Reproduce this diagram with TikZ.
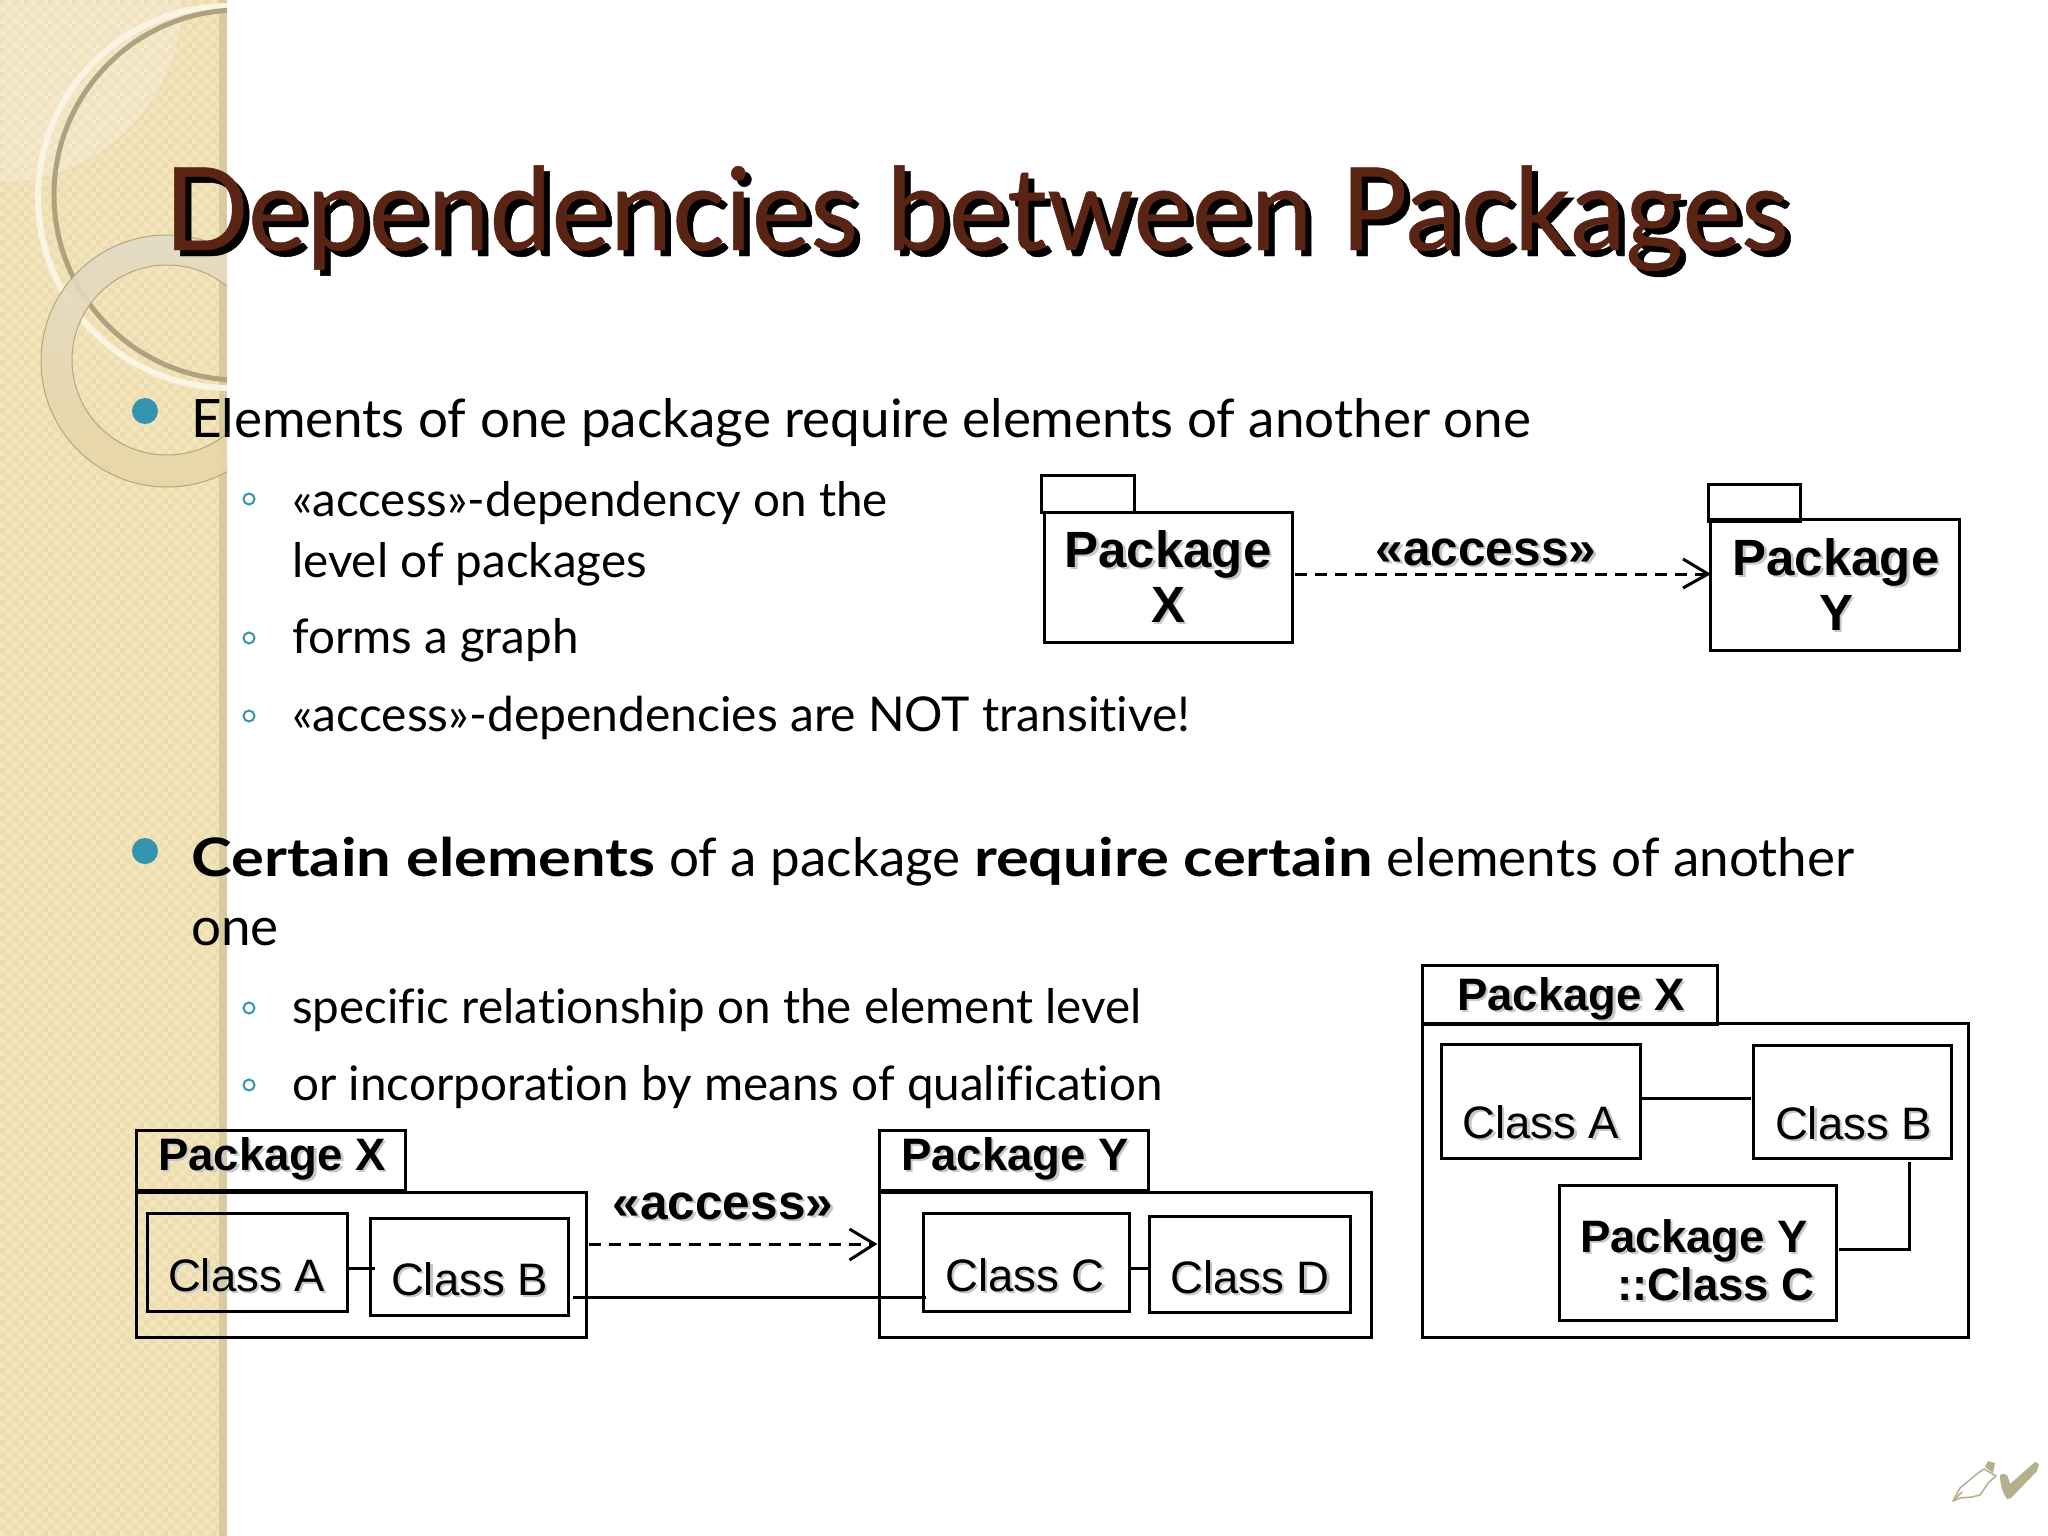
\documentclass[tikz,border=0pt]{standalone}
\usepackage{fontspec}
\setmainfont{Lato}[Ligatures={NoCommon},BoldFeatures={FakeStretch=1.16}]
\newfontfamily\titlef{Lato}[Ligatures={NoCommon},FakeStretch=0.965,FakeBold=0.4]
\newfontfamily\arialf{Liberation Sans}
\usetikzlibrary{arrows.meta,calc}
\definecolor{bandbase}{HTML}{EEDDAE}
\definecolor{bandlight}{HTML}{F2E4BD}
\definecolor{bandedge}{HTML}{D9CBA0}
\definecolor{titlebrown}{HTML}{5A2414}
\definecolor{teal}{HTML}{3493AE}
\definecolor{penc}{HTML}{B5AF8C}
\definecolor{ringtop}{HTML}{E2DBC6}
\definecolor{ringbot}{HTML}{E8D6A4}
\tikzset{
  x=1pt,y=-1pt,
  umlbox/.style={draw=black,line width=3pt,fill=none,inner sep=0pt,outer sep=0pt},
  conn/.style={draw=black,line width=3pt},
  depend/.style={draw=black,line width=3pt,dash pattern=on 12pt off 8pt},
  openhead/.style={draw=black,line width=3pt},
  bodytext/.style={anchor=base west,inner sep=0pt,font=\fontsize{53}{60}\selectfont,text=black},
  subtext/.style={anchor=base west,inner sep=0pt,font=\fontsize{47.6}{56}\selectfont,text=black},
  umlbold/.style={anchor=base,inner sep=0pt,font=\arialf\bfseries\fontsize{45.5}{50}\selectfont},
  umlbig/.style={anchor=base,inner sep=0pt,font=\arialf\bfseries\fontsize{51}{50}\selectfont},
  umlacc/.style={anchor=base,inner sep=0pt,font=\arialf\bfseries\fontsize{49.5}{50}\selectfont},
  umlreg/.style={anchor=base,inner sep=0pt,font=\arialf\fontsize{45.5}{50}\selectfont},
  titletext/.style={anchor=base west,inner sep=0pt,font=\titlef\fontsize{115}{120}\selectfont},
  bigbullet/.style={circle,fill=teal,minimum size=26pt,inner sep=0pt},
  subbullet/.style={circle,draw=teal,line width=2pt,minimum size=11pt,inner sep=0pt},
}
\newcommand{\umlrect}[5]{% name x1 y1 x2 y2
  \pgfmathsetmacro{\rw}{#4-#2}\pgfmathsetmacro{\rh}{#5-#3}
  \node[umlbox,minimum width=\rw pt,minimum height=\rh pt] (#1) at ({(#2+#4)/2},{(#3+#5)/2}) {};}
\newcommand{\shtxt}[5]{% name style x y text
  \node[#2,text=black!22] at (#3+2.5,#4+2.5) {#5};
  \node[#2,text=black] (#1) at (#3,#4) {#5};}
\begin{document}
\begin{tikzpicture}
\useasboundingbox (0,0) rectangle (2048,1536);
\fill[white] (0,0) rectangle (2048,1536);
\begin{scope}
\clip (0,0) rectangle (227,1536);
\fill[bandbase] (0,0) rectangle (227,1536);
\fill[bandlight] \foreach \i in {0,...,37}{ \foreach \j in {0,...,256}{
  \ifodd\numexpr\i+\j\relax (\i*6,\j*6) rectangle ++(6,6) \fi }};
\fill[bandedge] (219,0) rectangle (227,1536);
\fill[white,opacity=.2,draw=black!30!bandbase] (0,0) -- (183,0) arc (0:90:183) -- cycle;
\draw[line width=6pt,color=white!60!bandlight] (229,197) circle (191);
\draw[line width=5pt,color=black!20!bandedge] (239,195) circle (185);
\shade[even odd rule,top color=ringtop,bottom color=ringbot,opacity=.9] (167,361) circle (126) (167,360) circle (95);
\draw[black!25!bandbase,line width=1pt] (167,361) circle (126) (167,360) circle (95);
\end{scope}
% title
\node[titletext,text=black] at (170,256) {Dependencies between Packages};
\node[titletext,text=titlebrown] (title) at (164,250) {Dependencies between Packages};
% bullets
\node[bigbullet] (b1) at (145,411) {};
\node[bodytext] (t1) at (191,437.5) {Elements of one package require elements of another one};
\node[subbullet] (s1) at (249,499) {};
\node[subtext] (t2) at (292,516) {«access»-dependency on the};
\node[subtext] (t3) at (292,577) {level of packages};
\node[subbullet] (s2) at (249,638) {};
\node[subtext] (t4) at (292,653) {forms a graph};
\node[subbullet] (s3) at (249,716) {};
\node[subtext,font=\fontsize{48}{56}\selectfont] (t5) at (292,731) {«access»-dependencies are NOT transitive!};
\node[bigbullet] (b2) at (145,851) {};
\node[bodytext] (t6) at (191,876) {\textbf{Certain elements} of a package \textbf{require certain} elements of another};
\node[bodytext] (t7) at (191,945) {one};
\node[subbullet] (s4) at (249,1008) {};
\node[subtext] (t8) at (292,1023) {specific relationship on the element level};
\node[subbullet] (s5) at (249,1085) {};
\node[subtext] (t9) at (292,1100) {or incorporation by means of qualification};
% top diagram
\umlrect{pxtab}{1041}{475}{1134}{512}
\umlrect{pxbody}{1044}{512}{1292}{642}
\umlrect{pytab}{1708.5}{484}{1800.5}{521}
\umlrect{pybody}{1710}{519}{1959.5}{650}
\shtxt{pxl1}{umlbig}{1168}{567}{Package}
\shtxt{pxl2}{umlbig}{1168}{622}{X}
\shtxt{pyl1}{umlbig}{1836}{575}{Package}
\shtxt{pyl2}{umlbig}{1836}{630}{Y}
\shtxt{acc1}{umlacc}{1486}{565}{«access»}
\draw[depend] ($(pxbody.east)+(3,-3)$) -- ($(pybody.west)+(-2,-10.5)$);
\draw[openhead] ($(pybody.west)+(-27,-25.5)$) -- ($(pybody.west)+(-2,-10.5)$) -- ($(pybody.west)+(-27,3.5)$);
% bottom left diagram
\umlrect{lxtab}{136}{1130}{405.5}{1190}
\umlrect{lxbody}{136}{1192}{586.5}{1337}
\umlrect{ca}{147}{1213}{347}{1311}
\umlrect{cb}{370}{1218}{568}{1315}
\umlrect{lytab}{879.5}{1130}{1148}{1190}
\umlrect{lybody}{879.5}{1192}{1371}{1337}
\umlrect{cc}{923}{1213}{1129}{1311}
\umlrect{cd}{1149}{1216}{1350}{1312}
\shtxt{lxt}{umlbold}{272}{1170}{Package X}
\shtxt{lyt}{umlbold}{1015}{1170}{Package Y}
\shtxt{lca}{umlreg}{246.5}{1291}{Class A}
\shtxt{lcb}{umlreg}{469.5}{1295}{Class B}
\shtxt{lcc}{umlreg}{1025}{1291}{Class C}
\shtxt{lcd}{umlreg}{1250}{1293}{Class D}
\shtxt{acc2}{umlacc}{723}{1219}{«access»}
\draw[conn] ($(ca.east)+(0,6)$) -- ($(cb.west)+(5,1.5)$);
\draw[conn] ($(cc.east)+(0,6)$) -- ($(cd.west)+(0,4)$);
\draw[conn] ($(cb.east)+(5,30.5)$) -- ($(cc.west)+(3,35)$);
\draw[depend] ($(lxbody.east)+(2,-20.5)$) -- ($(lybody.west)+(-5,-20.5)$);
\draw[openhead] ($(lybody.west)+(-30,-35.5)$) -- ($(lybody.west)+(-5,-20.5)$) -- ($(lybody.west)+(-30,-4.5)$);
% right diagram
\umlrect{rxtab}{1422}{965}{1717.5}{1024}
\umlrect{rxbody}{1422}{1023}{1968.5}{1337}
\umlrect{ra}{1441}{1044}{1640}{1158}
\umlrect{rb}{1753}{1045}{1951.5}{1158}
\umlrect{ry}{1559}{1185}{1836}{1320}
\shtxt{rxt}{umlbold}{1571}{1010}{Package X}
\shtxt{rat}{umlreg}{1541}{1138}{Class A}
\shtxt{rbt}{umlreg}{1853.5}{1139}{Class B}
\shtxt{ryt1}{umlbold}{1694}{1252}{Package Y}
\shtxt{ryt2}{umlbold}{1716}{1300}{::Class C}
\draw[conn] ($(ra.east)+(0,-3)$) -- ($(rb.west)+(-2,-3.5)$);
\draw[conn] ($(ry.east)+(3,-3.5)$) -| ($(rb.south)+(57,4)$);
% mark
\coordinate (nib) at (1953,1501);
\draw[penc,line width=1.5pt,line join=round] (nib) -- (1960,1488) -- (1978,1473) -- (1984,1469) -- (1996,1476) -- (1989,1482) -- (1980,1495) -- (1972,1497) -- (1960,1498) -- cycle;
\draw[penc,line width=1.5pt] (nib) -- (1962,1492);
\fill[penc] (1985,1467) -- (1988,1461) -- (1995,1463) -- (1993,1473) -- cycle;
\fill[penc] (2000,1475) .. controls (2003,1473) and (2007,1474) .. (2008,1477) -- (2010,1484) -- (2035,1462) -- (2039,1464) -- (2037,1471) -- (2011,1498) -- (2007,1499) .. controls (2003,1494) and (2000,1485) .. (2000,1475) -- cycle;
\end{tikzpicture}
\end{document}
